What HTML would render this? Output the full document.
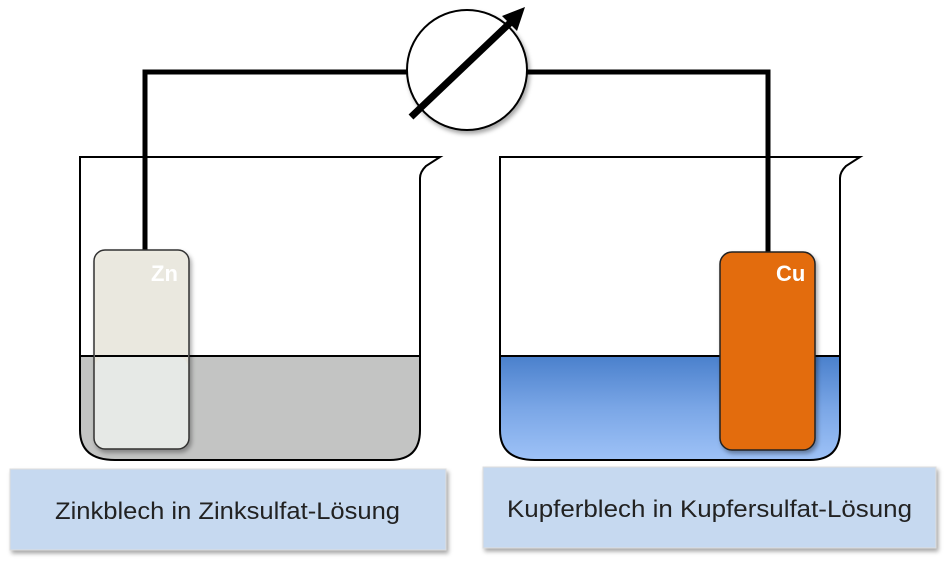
<!DOCTYPE html>
<html><head><meta charset="utf-8"><style>
body{margin:0;background:#fff;width:945px;height:560px;overflow:hidden}
</style></head><body>
<svg width="945" height="560" viewBox="0 0 945 560" xmlns="http://www.w3.org/2000/svg" font-family="Liberation Sans, sans-serif">
<defs>
<linearGradient id="blue" x1="0" y1="0" x2="0" y2="1">
<stop offset="0" stop-color="#4a80cc"/><stop offset="0.5" stop-color="#7aa6e6"/><stop offset="1" stop-color="#9ec2f7"/>
</linearGradient>
<filter id="sh" x="-10%" y="-10%" width="130%" height="130%"><feDropShadow dx="2" dy="3" stdDeviation="2" flood-opacity="0.35"/></filter>
</defs>
<polyline points="145,250 145,72 407,72" fill="none" stroke="#000" stroke-width="5"/>
<polyline points="527,72 768,72 768,252" fill="none" stroke="#000" stroke-width="5"/>
<circle cx="467" cy="70" r="60" fill="#fff" stroke="#000" stroke-width="2" filter="url(#sh)"/>
<line x1="411" y1="117" x2="512" y2="21" stroke="#000" stroke-width="7"/>
<polygon points="525,7 502,16 517,31" fill="#000"/>
<path d="M80,356 H420 V430 Q420,460 390,460 H115 Q80,460 80,430 Z" fill="#c3c4c3"/>
<path d="M80,157 H440 L426,166 Q420,172 420,178 V430 Q420,460 390,460 H115 Q80,460 80,430 Z" fill="none" stroke="#000" stroke-width="2"/>
<line x1="80" y1="356" x2="420" y2="356" stroke="#000" stroke-width="2"/>
<rect x="94" y="250" width="95" height="199" rx="11" fill="#eceae0" fill-opacity="0.9" stroke="#333" stroke-width="1.5" filter="url(#sh)"/>
<rect x="95" y="357" width="93" height="91" rx="10" fill="#e6e9e6"/>
<line x1="95" y1="356" x2="188" y2="356" stroke="#000" stroke-width="2"/>
<text x="151" y="281" font-size="22" font-weight="bold" fill="#fff">Zn</text>
<path d="M500,356 H840 V430 Q840,460 810,460 H535 Q500,460 500,430 Z" fill="url(#blue)"/>
<path d="M500,157 H860 L846,166 Q840,172 840,178 V430 Q840,460 810,460 H535 Q500,460 500,430 Z" fill="none" stroke="#000" stroke-width="2"/>
<line x1="500" y1="356" x2="840" y2="356" stroke="#000" stroke-width="2"/>
<rect x="720" y="252" width="95" height="198" rx="12" fill="#e36c0e" stroke="#222" stroke-width="1.5" filter="url(#sh)"/>
<text x="776" y="281" font-size="22" font-weight="bold" fill="#fff">Cu</text>
<rect x="10" y="469" width="436" height="81" fill="#c6d9f0" stroke="#ddd" filter="url(#sh)"/>
<text x="55" y="519" font-size="24" textLength="345" lengthAdjust="spacingAndGlyphs" fill="#222">Zinkblech in Zinksulfat-Lösung</text>
<rect x="483" y="467" width="453" height="81" fill="#c6d9f0" stroke="#ddd" filter="url(#sh)"/>
<text x="507" y="517" font-size="24" textLength="405" lengthAdjust="spacingAndGlyphs" fill="#222">Kupferblech in Kupfersulfat-Lösung</text>
</svg>
</body></html>
